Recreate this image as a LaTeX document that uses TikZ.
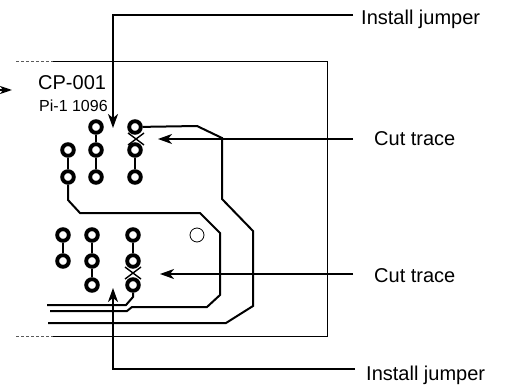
\documentclass[tikz,border=0pt]{standalone}
\usepackage{fontspec}
\setmainfont{Liberation Sans}
\usetikzlibrary{arrows.meta, positioning}
\definecolor{board_gray}{RGB}{90, 90, 90}
\tikzset{
    pad_node/.style={
        circle,
        draw=black,
        fill=white,
        line width=3.9pt,
        minimum size=11.6pt,
        inner sep=0pt
    },
    hole_node/.style={
        circle,
        draw=black,
        fill=white,
        line width=0.8pt,
        minimum size=14pt,
        inner sep=0pt
    },
    trace_line/.style={
        line width=2pt,
        draw=black
    },
    board_line/.style={
        line width=1pt,
        draw=black
    },
    board_dash/.style={
        line width=1pt,
        draw=board_gray,
        dash pattern=on 3pt off 2pt
    },
    cut_mark/.style={
        line width=1.4pt,
        draw=black
    },
    leader_arrow/.style={
        -{Stealth[length=14pt,width=10pt,inset=4pt]},
        line width=1.6pt,
        draw=black
    },
    label_text/.style={
        anchor=base west,
        inner sep=0pt,
        font=\fontsize{20}{24}\selectfont
    }
}
\begin{document}
\begin{tikzpicture}[x=1pt, y=-1pt]
\useasboundingbox (0,0) rectangle (508,385);

% Board outline
\draw[board_dash] (16,62) -- (53,62);
\draw[board_dash] (16,336) -- (53,336);
\draw[board_line] (53,62) -- (327,62) -- (327,336) -- (53,336);

% Board marking
\node[label_text] (board_id) at (38,90) {CP-001};
\node[label_text, font=\fontsize{16}{19}\selectfont] (board_rev) at (39,111) {Pi-1 1096};

% Upper pad group
\node[pad_node] (a1) at (68,150) {};
\node[pad_node] (a2) at (68,177) {};
\node[pad_node] (b1) at (96,127) {};
\node[pad_node] (b2) at (96,150) {};
\node[pad_node] (b3) at (96,177) {};
\node[pad_node] (c1) at (135,127) {};
\node[pad_node] (c2) at (135,150) {};
\node[pad_node] (c3) at (135,177) {};

% Lower pad group
\node[pad_node] (d1) at (63,235) {};
\node[pad_node] (d2) at (63,261) {};
\node[pad_node] (e1) at (92,235) {};
\node[pad_node] (e2) at (92,261) {};
\node[pad_node] (e3) at (92,285) {};
\node[pad_node] (f1) at (133,235) {};
\node[pad_node] (f2) at (133,261) {};
\node[pad_node] (f3) at (133,285) {};

% Mounting hole
\node[hole_node] (hole) at (197,235) {};

% Short links between pads
\draw[trace_line] (a1) -- (a2);
\draw[trace_line] (b1) -- (b2);
\draw[trace_line] (b2) -- (b3);
\draw[trace_line] (c2) -- (c3);
\draw[trace_line] (d1) -- (d2);
\draw[trace_line] (e1) -- (e2);
\draw[trace_line] (e2) -- (e3);
\draw[trace_line] (f1) -- (f2);

% Long traces
\draw[trace_line] (c1) -- (197,126) -- (222,138) -- (222,199) -- (253,231)
    -- (253,306) -- (226,323) -- (48,323);
\draw[trace_line] (a2) -- (68,200) -- (80,213) -- (200,213) -- (220,233)
    -- (220,295) -- (207,307) -- (132,307) -- (127,311) -- (50,311);
\draw[trace_line] (f3) -- (133,297) -- (126,305) -- (47,305);

% Cut marks
\coordinate (cut_top) at (136,139);
\coordinate (cut_bot) at (133,273);
\foreach \cut in {cut_top, cut_bot} {
    \draw[cut_mark] ([shift={(-8,-6)}]\cut) -- ([shift={(8,6)}]\cut);
    \draw[cut_mark] ([shift={(-8,6)}]\cut) -- ([shift={(8,-6)}]\cut);
}

% Callout labels
\node[label_text] (jumper_top) at (361,25) {Install jumper};
\node[label_text] (cut_top_lbl) at (374,145) {Cut trace};
\node[label_text] (cut_bot_lbl) at (374,282) {Cut trace};
\node[label_text] (jumper_bot) at (366,380) {Install jumper};

% Leader end points
\coordinate (jt_start) at (353,15);
\coordinate (jt_tip) at (113,128);
\coordinate (ct_start) at (353,139);
\coordinate (ct_tip) at (158,139);
\coordinate (cb_start) at (353,274);
\coordinate (cb_tip) at (160,274);
\coordinate (jb_start) at (355,369);
\coordinate (jb_tip) at (113,288);
\coordinate (in_start) at (-6,90);
\coordinate (in_tip) at (12,90);

% Leader arrows
\draw[leader_arrow] (jt_start) -| (jt_tip);
\draw[leader_arrow] (ct_start) -- (ct_tip);
\draw[leader_arrow] (cb_start) -- (cb_tip);
\draw[leader_arrow] (jb_start) -| (jb_tip);
\draw[leader_arrow, -{Stealth[length=12pt,width=8pt,inset=3pt]}] (in_start) -- (in_tip);

\end{tikzpicture}
\end{document}
